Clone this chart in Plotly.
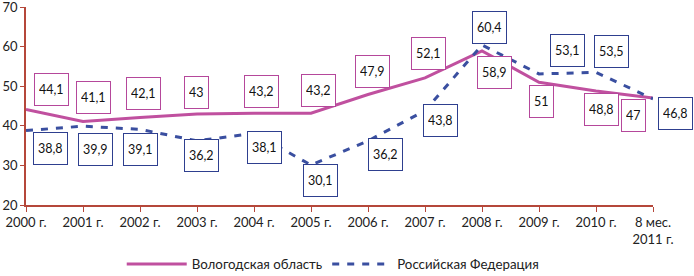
import plotly.graph_objects as go

categories = ["2000 г.", "2001 г.", "2002 г.", "2003 г.", "2004 г.", "2005 г.",
              "2006 г.", "2007 г.", "2008 г.", "2009 г.", "2010 г.", "8 мес.<br>2011 г."]
vologda = [44.1, 41.1, 42.1, 43, 43.2, 43.2, 47.9, 52.1, 58.9, 51, 48.8, 47]
russia = [38.8, 39.9, 39.1, 36.2, 38.1, 30.1, 36.2, 43.8, 60.4, 53.1, 53.5, 46.8]
y_ticks = [20, 30, 40, 50, 60, 70]

# label offsets in pixels (dx right, dy up) relative to each point
vol_dx = [25, 10, 3, -1, 7, 7, 4, 3, 12, 2, 5, -20]
vol_dy = [20, 24, 24, 21, 22, 23, 23, 24, -22, -19, -19, -17]
rus_dx = [24, 12, 0, 4, 10, 9, 17, 15, 7, 28, 15, 22]
rus_dy = [-18, -23, -20, -15, -14, -15, -14, -10, 18, 23, 21, -15]

PINK = "#c0509f"
PINK_B = "#b5479b"
BLUE = "#3a4fa0"
BLUE_B = "#2e3f8f"
AXIS = "#b5473a"
FONT = "Lato"

x = list(range(len(categories)))

fig = go.Figure()
fig.add_trace(go.Scatter(x=x, y=vologda, mode="lines", name="Вологодская область",
                         line=dict(color=PINK, width=3), cliponaxis=False))
fig.add_trace(go.Scatter(x=x, y=russia, mode="lines", name="Российская Федерация",
                         line=dict(color=BLUE, width=3, dash="7px,8px"), cliponaxis=False))

def fmt(v):
    return ("%g" % v).replace(".", ",")

for i, v in enumerate(vologda):
    fig.add_annotation(x=x[i], y=v, text=fmt(v), showarrow=False,
                       xshift=vol_dx[i], yshift=vol_dy[i],
                       bordercolor=PINK_B, borderwidth=1, borderpad=4,
                       bgcolor="white", height=23,
                       font=dict(family=FONT, size=12.5, color="#111"))
for i, v in enumerate(russia):
    fig.add_annotation(x=x[i], y=v, text=fmt(v), showarrow=False,
                       xshift=rus_dx[i], yshift=rus_dy[i],
                       bordercolor=BLUE_B, borderwidth=1, borderpad=4,
                       bgcolor="white", height=23,
                       font=dict(family=FONT, size=12.5, color="#111"))

fig.update_layout(
    width=694, height=276,
    margin=dict(l=26, r=41, t=7, b=71, autoexpand=False),
    paper_bgcolor="white", plot_bgcolor="white",
    font=dict(family=FONT, size=13, color="#222"),
    showlegend=True,
    legend=dict(orientation="h", x=0.49, xanchor="center", y=-0.3, yanchor="middle",
                font=dict(family=FONT, size=13.3, color="#222"), itemwidth=60),
)
fig.update_xaxes(range=[0, 11], tickmode="array", tickvals=x, ticktext=categories,
                 showgrid=False, zeroline=False, showline=True, linecolor=AXIS, linewidth=1.5,
                 ticks="outside", ticklen=5, tickcolor=AXIS, tickfont=dict(size=13),
                 ticklabeloverflow="allow", automargin=False)
fig.update_yaxes(range=[20, 70], tickmode="array", tickvals=y_ticks,
                 showgrid=False, zeroline=False, showline=True, linecolor=AXIS, linewidth=1.5,
                 ticks="outside", ticklen=4, tickcolor=AXIS, tickfont=dict(size=13),
                 ticklabeloverflow="allow", automargin=False)

fig.write_html("out.html", config={"displayModeBar": False},
               post_script="document.body.style.margin='0';document.body.style.overflow='hidden';")
